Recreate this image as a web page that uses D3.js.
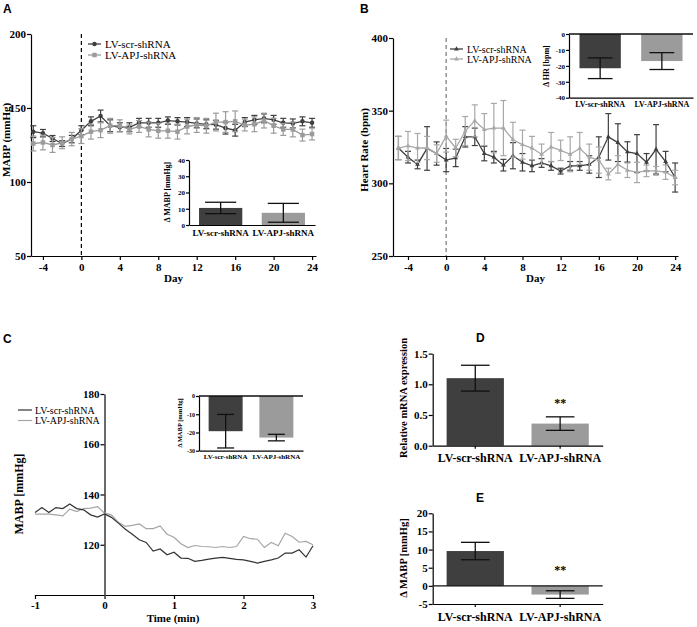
<!DOCTYPE html>
<html>
<head>
<meta charset="utf-8">
<script src="https://cdn.jsdelivr.net/npm/d3@7"></script>
<style>
body { margin: 0; background: #fff; }
svg text { font-family: "Liberation Serif", "Times New Roman", serif; fill: #000; }
</style>
</head>
<body>
<svg id="chart" width="697" height="627"></svg>
<script>
// groups used in every panel
var groups = ["LV-scr-shRNA", "LV-APJ-shRNA"];

// A + B : days after injection
var days = [-5,-4,-3,-2,-1,0,1,2,3,4,5,6,7,8,9,10,11,12,13,14,15,16,17,18,19,20,21,22,23,24];
var dayTicks = [-4,0,4,8,12,16,20,24];

// A : MABP (mmHg)
var mabpScr    = [134,133,129.4,126,129,135,141,144.6,138,137,137,140,140,140,141.5,141,140.5,139.6,139,138.7,136.4,135,140.5,142,143,142,140,139.6,141,140];
var mabpScrErr = [4,2.5,2,2,2.5,3,3,4,4,3,3,3,3,3,2.5,2.5,3,3,3,3,4,4,3,3,3,3,3,3,3,3];
var mabpApj    = [126,126.7,125,126.5,129,131,134,135,138,138,135.5,137.5,135.5,134.6,134.6,134,137.5,138.5,138,140.5,140.5,141,138.5,139,141.5,138,135.5,135.5,131.7,132.4];
var mabpApjErr = [5,5,5,4,4.5,5,5,5,5,4,3,4,5,5,5,5,5,5,5,6,7,7,4,5,5,5,4,5,4,4];

// B : heart rate (bpm)
var hrScr    = [324.3,318,313,324,320.5,316,317.5,332,332,320.5,318,312.5,319,314.5,312,314,312,308.4,312,312,313,318,332,328,321.6,320.5,314.5,323.4,315,304];
var hrScrErr = [8,4,3,15,8,8,6,7,6,5,4,4,9,6,4,3,3,2,3,3,6,14,16,13,7,13,6,17,7,10];
var hrApj    = [324.3,325.7,324.3,324.3,320.5,332.5,324.3,336,343,337,338,338,330,326.6,324.3,320,325,322.7,320,324,318,316,306.4,313,309,307.5,308.6,308.6,307.7,304];
var hrApjErr = [8,10,10,8,6,11,6,10,11,11,17,19,12,10,8,7,10,7,12,11,9,9,4,6,5,7,4,3,5,5];

// C : acute MABP trace (mmHg), every 0.1 min
var timeMin = [-1,-0.9,-0.8,-0.7,-0.6,-0.5,-0.4,-0.3,-0.2,-0.1,0,0.1,0.2,0.3,0.4,0.5,0.6,0.7,0.8,0.9,1,1.1,1.2,1.3,1.4,1.5,1.6,1.7,1.8,1.9,2,2.1,2.2,2.3,2.4,2.5,2.6,2.7,2.8,2.9,3];
var acuteScr = [132.8,134.8,132.8,134.8,134.4,136.2,134.4,133.9,131.9,131,132.3,130.9,128.6,126.2,124.2,122,120.9,117.5,118.3,116,117,114.7,114.6,113.4,113.8,114.3,114.7,115,114.6,114.2,114,113.4,112.7,113.4,114,114.7,116.7,116.7,118,115.1,119.6];
var acuteApj = [132.2,132.2,132.2,131.9,131.5,134.2,133.2,134.4,134.6,135.2,132.6,131.9,128.9,127.3,127.7,128.3,126.4,126.4,127.5,124.2,123,120.4,118.9,119.7,119.3,119.2,118.9,119.3,118.9,119.3,123.3,122.4,122.2,118.9,120.9,119.6,124.6,123.3,121,121.3,120];

// bar panels: mean and SEM per group
var dMabpChronic = [10.5, 7.5],   dMabpChronicErr = [3.5, 5.8];
var dHr          = [-21.5, -17],  dHrErr          = [6.5, 5.3];
var dMabpAcute   = [-19.3, -22.8],dMabpAcuteErr   = [9.2, 1.8];
var mrna         = [1.1, 0.36],   mrnaErr         = [0.21, 0.11];
var dMabpE       = [9.6, -2.4],   dMabpEErr       = [2.4, 1.05];

var dark = "#3f3f3f", light = "#9b9b9b";
var svg = d3.select("#chart");

function styleAxis(g, fs) {
  g.selectAll(".domain, .tick line").attr("stroke", "#000").attr("stroke-width", 1.2);
  g.selectAll("text").style("font-size", fs + "px").style("font-weight", "bold")
    .style("font-family", '"Liberation Serif", serif');
}
function yLabel(text, x, y, fs) {
  svg.append("text").attr("transform", "translate(" + x + "," + y + ") rotate(-90)")
    .attr("text-anchor", "middle").style("font-size", fs + "px").style("font-weight", "bold").text(text);
}
function panelLetter(text, x, y) {
  svg.append("text").attr("x", x).attr("y", y).style("font-family", '"Liberation Sans", Arial, sans-serif')
    .style("font-size", "12px").style("font-weight", "bold").text(text);
}
var fmt = function(d) { return String(d); };

// ---------- time course panels (A, B) ----------
function timeCourse(o) {
  var x = d3.scaleLinear().domain(o.xd).range(o.xr);
  var y = d3.scaleLinear().domain(o.yd).range(o.yr);
  var g = svg.append("g");

  var ax = g.append("g").attr("transform", "translate(0," + o.yr[0] + ")")
    .call(d3.axisBottom(x).tickValues(dayTicks).tickSize(4).tickSizeOuter(0).tickFormat(fmt).tickPadding(3));
  styleAxis(ax, 11);
  var ay = g.append("g").attr("transform", "translate(" + o.xr[0] + ",0)")
    .call(d3.axisLeft(y).tickValues(o.yt).tickSize(4).tickSizeOuter(0).tickFormat(fmt).tickPadding(1));
  styleAxis(ay, 11);

  g.append("line").attr("x1", x(0)).attr("x2", x(0)).attr("y1", o.yr[1]).attr("y2", o.yr[0])
    .attr("stroke", o.dashColor).attr("stroke-width", 1.2).attr("stroke-dasharray", "4,3");

  o.series.forEach(function(s) {
    var pts = days.map(function(d, i) { return { d: d, v: s.v[i], e: s.e[i] }; });
    var eb = g.append("g").attr("stroke", s.color).attr("stroke-width", 1.2);
    pts.forEach(function(p) {
      eb.append("line").attr("x1", x(p.d)).attr("x2", x(p.d)).attr("y1", y(p.v - p.e)).attr("y2", y(p.v + p.e));
      [p.v - p.e, p.v + p.e].forEach(function(v) {
        eb.append("line").attr("x1", x(p.d) - 3).attr("x2", x(p.d) + 3).attr("y1", y(v)).attr("y2", y(v));
      });
    });
    g.append("path").datum(pts).attr("fill", "none").attr("stroke", s.color).attr("stroke-width", 1.3)
      .attr("d", d3.line().x(function(p) { return x(p.d); }).y(function(p) { return y(p.v); }));
    g.append("g").selectAll("path").data(pts).enter().append("path")
      .attr("transform", function(p) { return "translate(" + x(p.d) + "," + y(p.v) + ")"; })
      .attr("d", d3.symbol().type(s.symbol).size(s.size)).attr("fill", s.color);
  });

  // legend
  o.series.forEach(function(s, i) {
    var ly = o.legend[1] + i * o.legend[2];
    g.append("line").attr("x1", o.legend[0]).attr("x2", o.legend[0] + 13).attr("y1", ly).attr("y2", ly)
      .attr("stroke", s.color).attr("stroke-width", 1.3);
    g.append("path").attr("transform", "translate(" + (o.legend[0] + 6.5) + "," + ly + ")")
      .attr("d", d3.symbol().type(s.symbol).size(s.size)).attr("fill", s.color);
    g.append("text").attr("x", o.legend[0] + 17).attr("y", ly + 3.5).style("font-size", o.legendFs + "px").text(groups[i]);
  });

  g.append("text").attr("x", (o.xr[0] + o.xr[1]) / 2).attr("y", o.yr[0] + 26).attr("text-anchor", "middle")
    .style("font-size", "11px").style("font-weight", "bold").text("Day");
}

// ---------- bar panels (insets, D, E) ----------
function barPanel(o) {
  var x = d3.scaleBand().domain(groups).range(o.xr).paddingInner(o.pi).paddingOuter(o.po);
  var y = d3.scaleLinear().domain(o.yd).range(o.yr);
  var g = svg.append("g");
  var vals = o.v.map(function(v, i) { return { k: groups[i], v: v, e: o.e[i] }; });

  g.selectAll("rect").data(vals).enter().append("rect")
    .attr("x", function(d) { return x(d.k); }).attr("width", x.bandwidth())
    .attr("y", function(d) { return y(Math.max(0, d.v)); })
    .attr("height", function(d) { return Math.abs(y(d.v) - y(0)); })
    .attr("fill", function(d, i) { return i ? light : dark; });

  var cw = x.bandwidth() * o.cap;
  vals.forEach(function(d) {
    var cx = x(d.k) + x.bandwidth() / 2;
    g.append("line").attr("x1", cx).attr("x2", cx).attr("y1", y(d.v - d.e)).attr("y2", y(d.v + d.e))
      .attr("stroke", "#111").attr("stroke-width", 1.3);
    [d.v - d.e, d.v + d.e].forEach(function(v) {
      g.append("line").attr("x1", cx - cw / 2).attr("x2", cx + cw / 2).attr("y1", y(v)).attr("y2", y(v))
        .attr("stroke", "#111").attr("stroke-width", 1.3);
    });
  });

  var ay = g.append("g").attr("transform", "translate(" + o.xr[0] + ",0)")
    .call(d3.axisLeft(y).tickValues(o.yt).tickSize(o.tick).tickSizeOuter(0).tickFormat(o.yf || fmt).tickPadding(1));
  styleAxis(ay, o.tfs);

  // baseline at the bottom of the axis range
  var ax = g.append("g").attr("transform", "translate(0," + o.yr[0] + ")")
    .call(d3.axisBottom(x).tickSize(o.xtick).tickSizeOuter(0).tickPadding(o.lpad));
  styleAxis(ax, o.lfs);
  ax.selectAll(".tick text").style("font-weight", "bold");

  // zero line where the axis does not start at 0
  if (o.yd[0] !== 0) {
    g.append("line").attr("x1", o.xr[0]).attr("x2", o.xr[1]).attr("y1", y(0)).attr("y2", y(0))
      .attr("stroke", "#111").attr("stroke-width", 1.3);
  }
  if (o.stars) {
    g.append("text").attr("x", x(groups[1]) + x.bandwidth() / 2).attr("y", o.stars)
      .attr("text-anchor", "middle").style("font-size", "12px").style("font-weight", "bold").text("**");
  }
  return { x: x, y: y };
}

// ================= A =================
panelLetter("A", 3, 13);
timeCourse({
  xd: [-5.24, 24.41], xr: [31, 316], yd: [50, 200], yr: [256, 34], yt: [50, 100, 150, 200],
  dashColor: "#000", legend: [88, 44, 11], legendFs: 11,
  series: [
    { v: mabpApj, e: mabpApjErr, color: light, symbol: d3.symbolSquare, size: 20 },
    { v: mabpScr, e: mabpScrErr, color: dark, symbol: d3.symbolCircle, size: 16 }
  ].reverse()
});
yLabel("MABP (mmHg)", 10, 140, 11);
barPanel({
  v: dMabpChronic, e: dMabpChronicErr, xr: [189, 315], pi: 0.31, po: 0.16,
  yd: [0, 40], yr: [225, 160], yt: [0, 10, 20, 30, 40], tick: 3, tfs: 7, xtick: 0, lpad: 5, lfs: 9, cap: 0.72
});
yLabel("\u0394 MABP [mmHg]", 170, 192, 8);

// ================= B =================
panelLetter("B", 360, 13);
timeCourse({
  xd: [-5.57, 24.3], xr: [393, 678], yd: [250, 400], yr: [256, 38], yt: [250, 300, 350, 400],
  dashColor: "#777", legend: [450, 49, 10], legendFs: 10,
  series: [
    { v: hrScr, e: hrScrErr, color: dark, symbol: d3.symbolTriangle, size: 10 },
    { v: hrApj, e: hrApjErr, color: "#a8a8a8", symbol: d3.symbolTriangle, size: 10 }
  ]
});
yLabel("Heart Rate (bpm)", 368, 150, 11);
barPanel({
  v: dHr, e: dHrErr, xr: [569, 693], pi: 0.33, po: 0.17,
  yd: [-40, 0], yr: [97.7, 34], yt: [0, -10, -20, -30, -40], tick: 3, tfs: 7, xtick: 0, lpad: 4, lfs: 8, cap: 0.6
});
yLabel("\u0394 HR [bpm]", 549, 66, 8);

// ================= C =================
panelLetter("C", 3, 343);
(function() {
  var x = d3.scaleLinear().domain([-1, 3]).range([35, 313]);
  var y = d3.scaleLinear().domain([100, 180]).range([595, 394]);
  var g = svg.append("g");
  var ax = g.append("g").attr("transform", "translate(0,595)")
    .call(d3.axisBottom(x).tickValues([-1, 0, 1, 2, 3]).tickSize(4).tickSizeOuter(0).tickFormat(fmt).tickPadding(2));
  styleAxis(ax, 11);
  var ay = g.append("g").attr("transform", "translate(" + x(0) + ",0)")
    .call(d3.axisLeft(y).tickValues([120, 140, 160, 180]).tickSize(4).tickSizeOuter(0).tickFormat(fmt).tickPadding(1));
  styleAxis(ay, 11);
  ay.select(".domain").attr("stroke", "#6a6a6a").attr("stroke-width", 2);

  [[acuteApj, "#a5a5a5"], [acuteScr, "#333"]].forEach(function(s) {
    g.append("path").datum(timeMin).attr("fill", "none").attr("stroke", s[1]).attr("stroke-width", 1.2)
      .attr("d", d3.line().x(function(t) { return x(t); }).y(function(t, i) { return y(s[0][i]); }));
  });
  [["#333", 410], ["#a5a5a5", 420.5]].forEach(function(l, i) {
    g.append("line").attr("x1", 18).attr("x2", 32).attr("y1", l[1]).attr("y2", l[1]).attr("stroke", l[0]).attr("stroke-width", 1.2);
    g.append("text").attr("x", 35).attr("y", l[1] + 3.5).style("font-size", "10px").text(groups[i]);
  });
  g.append("text").attr("x", 173).attr("y", 622).attr("text-anchor", "middle")
    .style("font-size", "11px").style("font-weight", "bold").text("Time (min)");
})();
yLabel("MABP [mmHg]", 23, 494, 12);
barPanel({
  v: dMabpAcute, e: dMabpAcuteErr, xr: [199, 303], pi: 0.33, po: 0.19,
  yd: [-30, 0], yr: [450.7, 396], yt: [0, -10, -20, -30], tick: 3, tfs: 6, xtick: 0, lpad: 3, lfs: 7, cap: 0.5
});
yLabel("\u0394 MABP [mmHg]", 182, 423, 6.5);

// ================= D =================
panelLetter("D", 476, 342);
barPanel({
  v: mrna, e: mrnaErr, xr: [432.7, 602.7], pi: 0.325, po: 0.164,
  yd: [0, 1.5], yr: [445.7, 353.6], yt: [0, 0.5, 1, 1.5], yf: d3.format(".1f"),
  tick: 4, tfs: 11, xtick: 3, lpad: 5, lfs: 12, cap: 0.5, stars: 407
});
yLabel("Relative mRNA expression", 407, 398, 10.5);

// ================= E =================
panelLetter("E", 476, 502);
barPanel({
  v: dMabpE, e: dMabpEErr, xr: [432.7, 602.7], pi: 0.325, po: 0.164,
  yd: [-5, 20], yr: [604, 513.3], yt: [-5, 0, 5, 10, 15, 20],
  tick: 4, tfs: 11, xtick: 3, lpad: 5, lfs: 12, cap: 0.5, stars: 574
});
yLabel("\u0394 MABP [mmHg]", 407, 558, 10.5);
</script>
</body>
</html>
